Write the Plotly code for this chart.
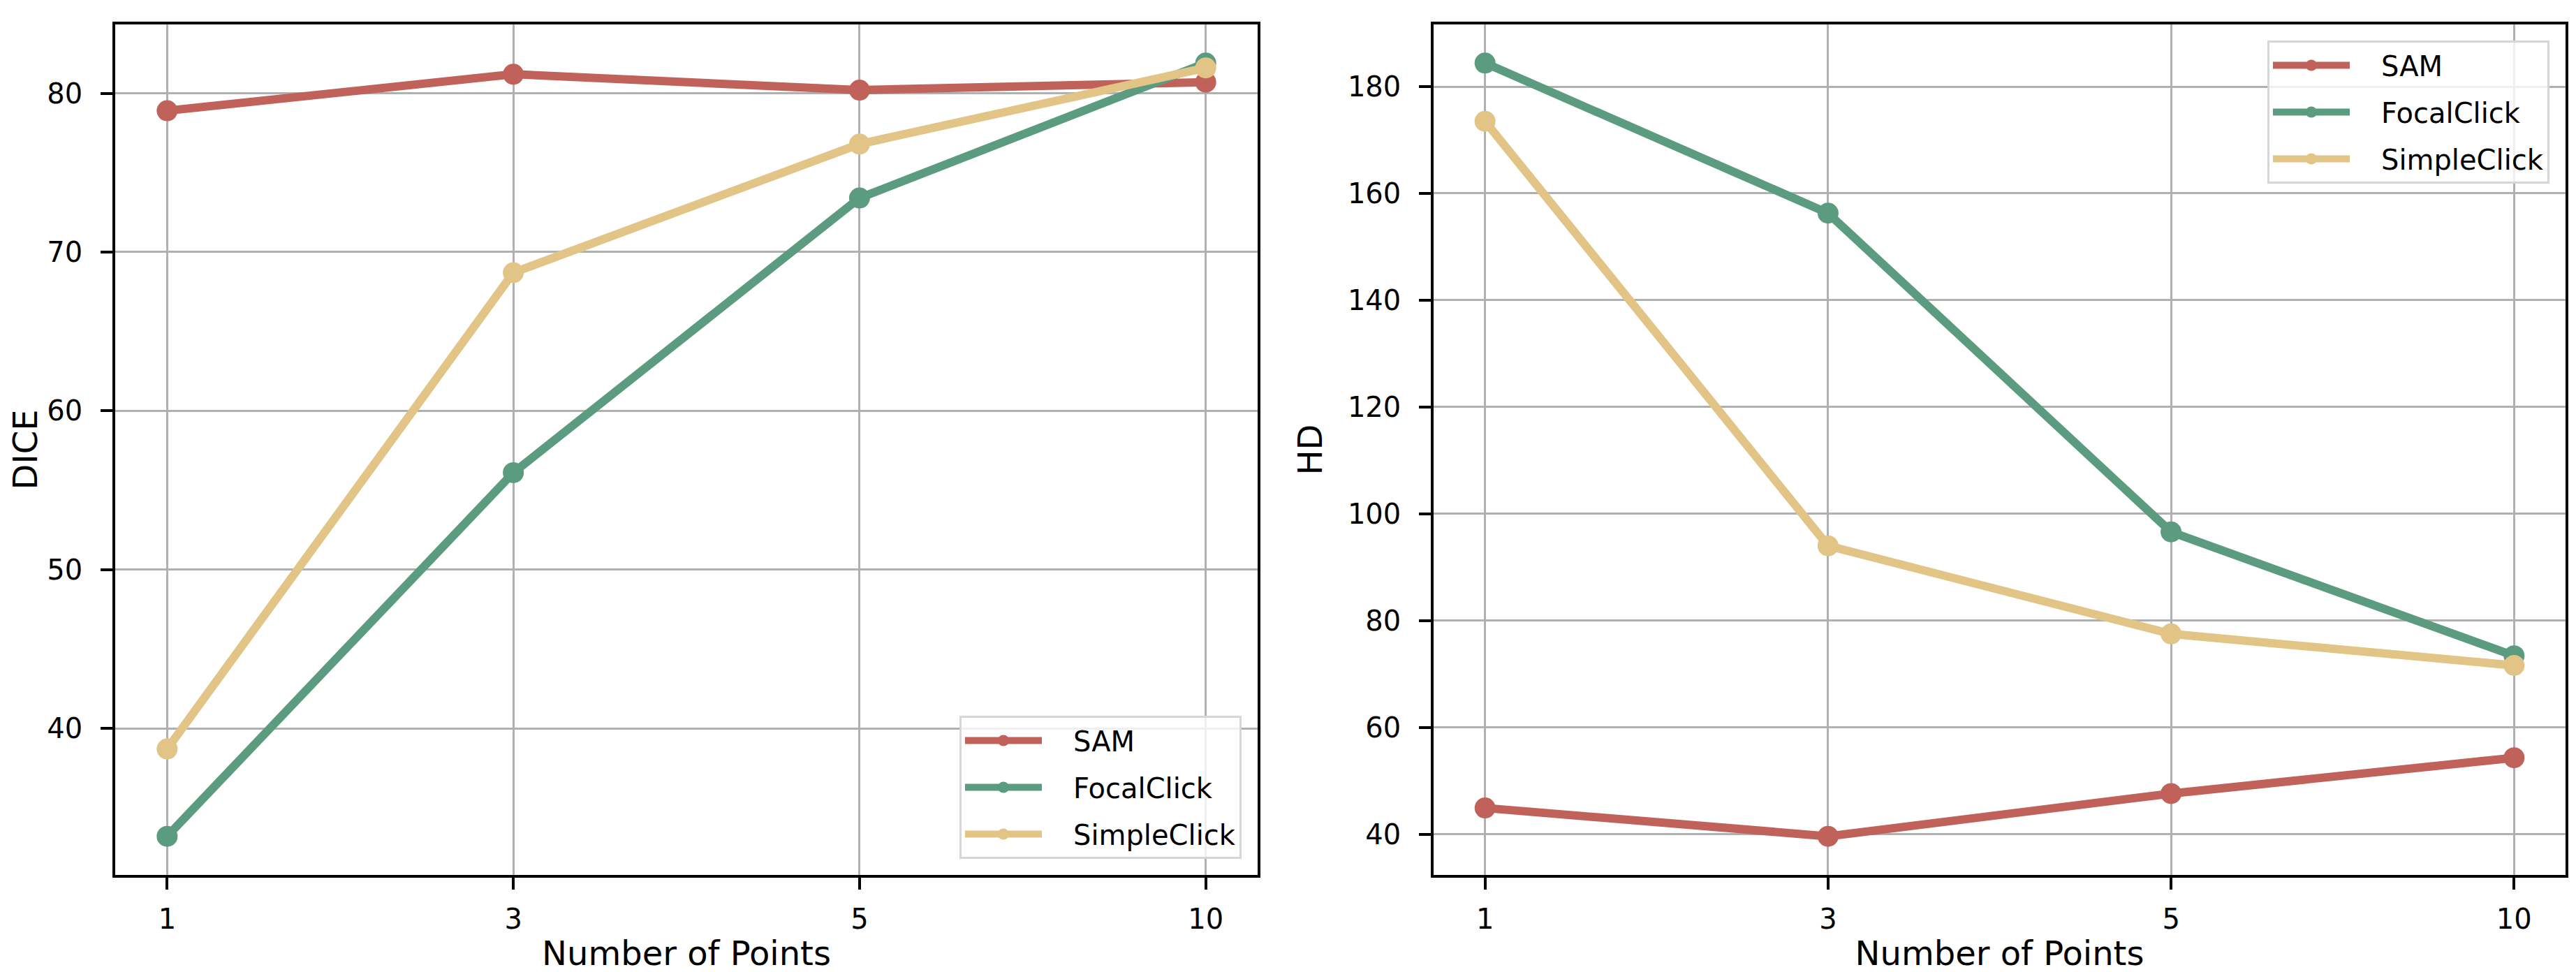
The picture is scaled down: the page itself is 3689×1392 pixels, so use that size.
import plotly.graph_objects as go

# data
points = ["1", "3", "5", "10"]
series = ["SAM", "FocalClick", "SimpleClick"]
colors = ["#c0625a", "#5b9b7f", "#e3c487"]

dice_sam = [78.9, 81.2, 80.2, 80.7]
dice_focal = [33.2, 56.1, 73.4, 81.9]
dice_simple = [38.7, 68.7, 76.8, 81.6]

hd_sam = [44.9, 39.6, 47.6, 54.3]
hd_focal = [184.4, 156.3, 96.6, 73.4]
hd_simple = [173.5, 94.0, 77.5, 71.6]

FONT = "DejaVu Sans"
FS = 40
W, H = 3689, 1392
ML, MR, MT, MB = 157, 23, 27, 147
PW, PH = W - ML - MR, H - MT - MB
GAP = "\u2002\u2002"  # a little room between legend symbol and label


def pad_range(*arrs):
    lo = min(min(a) for a in arrs)
    hi = max(max(a) for a in arrs)
    m = 0.05 * (hi - lo)
    return [lo - m, hi + m]


fig = go.Figure()
panels = [
    ("x", "y", "legend", [dice_sam, dice_focal, dice_simple]),
    ("x2", "y2", "legend2", [hd_sam, hd_focal, hd_simple]),
]
for xa, ya, leg, vals in panels:
    for name, col, v in zip(series, colors, vals):
        fig.add_trace(go.Scatter(
            x=points, y=v, name=GAP + name, mode="lines+markers",
            xaxis=xa, yaxis=ya, legend=leg, legendgroup=leg + name,
            line=dict(color=col, width=12),
            marker=dict(color=col, size=30),
        ))

axis_common = dict(
    showline=True, mirror=True, linecolor="black", linewidth=3.5,
    ticks="outside", ticklen=17, tickwidth=3.5, tickcolor="black",
    showgrid=True, gridcolor="#b0b0b0", gridwidth=3,
    zeroline=False, automargin=False,
    tickfont=dict(family=FONT, size=FS, color="black"),
)
xcommon = dict(type="category", range=[-0.15, 3.15], ticklabelstandoff=8,
               title=dict(text="Number of Points", standoff=12), **axis_common)
legend_common = dict(
    bgcolor="rgba(255,255,255,0.8)", bordercolor="#d6d6d6", borderwidth=3,
    font=dict(family=FONT, size=FS, color="black"), itemwidth=110,
    tracegroupgap=12,
)

fig.update_layout(
    width=W, height=H,
    margin=dict(l=ML, r=MR, t=MT, b=MB),
    paper_bgcolor="white", plot_bgcolor="white",
    font=dict(family=FONT, size=FS, color="black"),
    showlegend=True,
    xaxis=dict(domain=[0, (1793 - ML) / PW], **xcommon),
    yaxis=dict(domain=[0, 1], range=pad_range(dice_sam, dice_focal, dice_simple),
               tickvals=[40, 50, 60, 70, 80], ticklabelstandoff=18,
               title=dict(text="DICE", standoff=40), **axis_common),
    xaxis2=dict(domain=[(2045 - ML) / PW, 1], anchor="y2", **xcommon),
    yaxis2=dict(domain=[0, 1], range=pad_range(hd_sam, hd_focal, hd_simple),
                tickvals=[40, 60, 80, 100, 120, 140, 160, 180], anchor="x2",
                ticklabelstandoff=18,
                title=dict(text="HD", standoff=22), **axis_common),
    legend=dict(x=(1770 - ML) / PW, y=(1245 - 1222) / PH,
                xanchor="right", yanchor="bottom", **legend_common),
    legend2=dict(x=(3643 - ML) / PW, y=(1245 - 50) / PH,
                 xanchor="right", yanchor="top", **legend_common),
)

fig.write_html("out.html")
